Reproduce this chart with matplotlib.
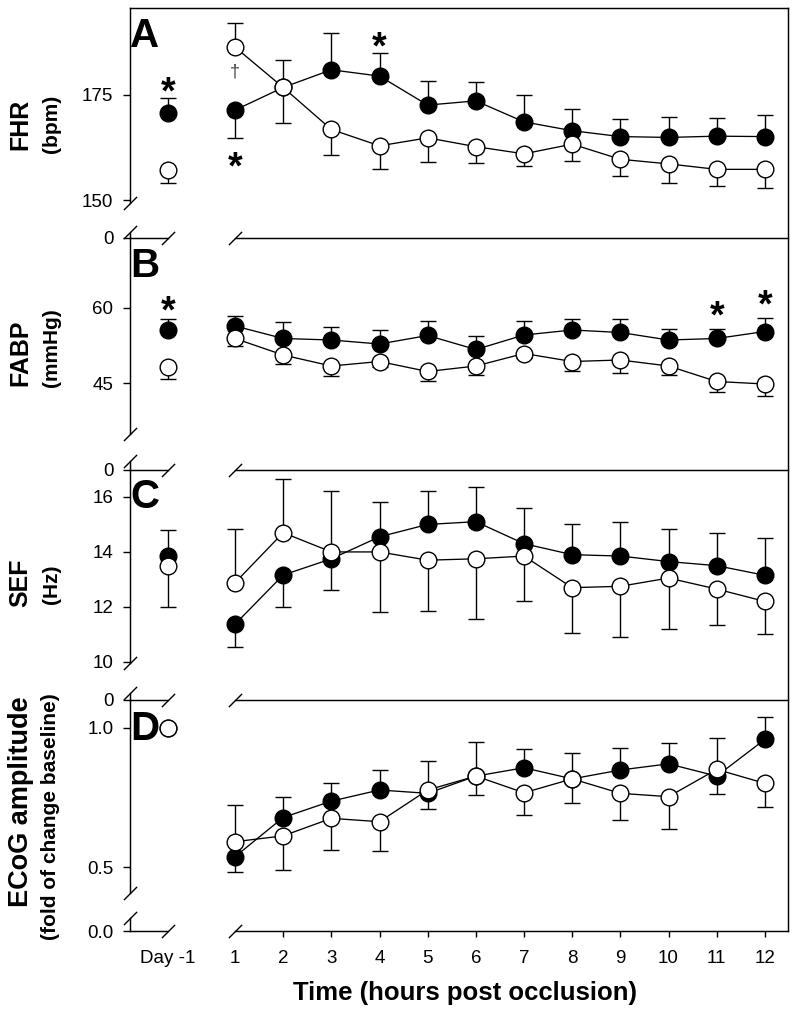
import matplotlib
matplotlib.use('Agg')
import matplotlib.pyplot as plt

plt.rcParams['font.family'] = ['Liberation Sans', 'DejaVu Sans']

# ---------------- data ----------------
hours = [1, 2, 3, 4, 5, 6, 7, 8, 9, 10, 11, 12]
hour_labels = [str(h) for h in hours]
day_label = 'Day -1'

# Panel A: FHR (bpm)   day values = [filled, open]
fhr_day = [170.7, 157.1]
fhr_day_lo = [0.0, 3.1]
fhr_day_hi = [3.6, 0.0]
fhr_filled = [171.4, 176.8, 181.0, 179.5, 172.6, 173.6, 168.6, 166.5, 165.1, 164.9, 165.2, 165.1]
fhr_filled_lo = [6.6, 0, 0, 0, 0, 0, 0, 0, 0, 0, 0, 0]
fhr_filled_hi = [0, 6.5, 8.7, 5.4, 5.7, 4.5, 6.4, 5.1, 4.3, 4.8, 4.4, 5.1]
fhr_open = [186.4, 176.8, 166.8, 162.9, 164.8, 162.7, 161.0, 163.3, 159.7, 158.6, 157.3, 157.3]
fhr_open_lo = [0, 8.4, 6.2, 5.4, 5.8, 4.0, 3.0, 3.9, 4.0, 4.5, 3.9, 4.5]
fhr_open_hi = [5.8, 0, 0, 0, 0, 0, 0, 0, 0, 0, 0, 0]
fhr_ticks = [150, 175]
fhr_ticklabels = ['150', '175']

# Panel B: FABP (mmHg)
fabp_day = [55.6, 48.3]
fabp_day_lo = [0.0, 2.6]
fabp_day_hi = [2.2, 0.0]
fabp_filled = [56.4, 53.9, 53.6, 52.8, 54.5, 51.7, 54.6, 55.6, 55.1, 53.6, 53.9, 55.3]
fabp_filled_lo = [0, 0, 0, 0, 0, 0, 0, 0, 0, 0, 0, 0]
fabp_filled_hi = [2.0, 3.2, 2.5, 2.9, 3.0, 2.7, 2.8, 2.3, 2.7, 2.3, 2.0, 2.8]
fabp_open = [53.9, 50.6, 48.4, 49.3, 47.3, 48.4, 50.9, 49.3, 49.6, 48.4, 45.3, 44.8]
fabp_open_lo = [1.5, 1.8, 2.1, 1.0, 2.0, 1.9, 1.0, 2.0, 2.7, 1.7, 2.2, 2.5]
fabp_open_hi = [0, 0, 0, 0, 0, 0, 0, 0, 0, 0, 0, 0]
fabp_ticks = [45, 60]
fabp_ticklabels = ['45', '60']

# Panel C: SEF (Hz)
sef_day = [13.85, 13.49]
sef_day_lo = [0.0, 1.5]
sef_day_hi = [0.95, 0.0]
sef_filled = [11.37, 13.16, 13.75, 14.55, 15.0, 15.1, 14.3, 13.9, 13.85, 13.65, 13.5, 13.15]
sef_filled_lo = [0.84, 1.15, 1.15, 0, 0, 0, 0, 0, 0, 0, 0, 0]
sef_filled_hi = [0, 0, 0, 1.25, 1.2, 1.25, 1.3, 1.1, 1.25, 1.2, 1.2, 1.35]
sef_open = [12.88, 14.70, 14.0, 14.0, 13.7, 13.75, 13.85, 12.7, 12.75, 13.05, 12.65, 12.2]
sef_open_lo = [0, 0, 0, 2.2, 1.85, 2.2, 1.65, 1.65, 1.85, 1.85, 1.3, 1.2]
sef_open_hi = [1.96, 1.95, 2.2, 0, 0, 0, 0, 0, 0, 0, 0, 0]
sef_ticks = [10, 12, 14, 16]
sef_ticklabels = ['10', '12', '14', '16']

# Panel D: ECoG amplitude (fold of change baseline)
ecog_day = [1.0, 1.0]
ecog_day_lo = [0.0, 0.0]
ecog_day_hi = [0.0, 0.0]
ecog_filled = [0.537, 0.678, 0.737, 0.777, 0.765, 0.827, 0.857, 0.817, 0.849, 0.871, 0.827, 0.959]
ecog_filled_lo = [0.056, 0, 0, 0, 0.057, 0, 0, 0, 0, 0, 0.064, 0]
ecog_filled_hi = [0, 0.074, 0.066, 0.072, 0, 0.124, 0.066, 0.094, 0.078, 0.074, 0, 0.082]
ecog_open = [0.591, 0.612, 0.675, 0.663, 0.777, 0.827, 0.767, 0.817, 0.765, 0.753, 0.851, 0.801]
ecog_open_lo = [0, 0.123, 0.114, 0.104, 0, 0.068, 0.08, 0.086, 0.096, 0.117, 0, 0.084]
ecog_open_hi = [0.132, 0, 0, 0, 0.104, 0, 0, 0, 0, 0, 0.114, 0]
ecog_ticks = [0.5, 1.0]
ecog_ticklabels = ['0.5', '1.0']

# significance marks: (panel, x ('day' or hour), y, symbol)
marks = [
    (0, 'day', 177.9, '*'),
    (0, 1, 160.2, '*'),
    (0, 4, 188.6, '*'),
    (0, 1, 180.7, '\u2020'),
    (1, 'day', 61.3, '*'),
    (1, 11, 60.4, '*'),
    (1, 12, 62.6, '*'),
]

panels = [
    dict(letter='A', label='FHR', unit='(bpm)', day=fhr_day, day_lo=fhr_day_lo, day_hi=fhr_day_hi,
         filled=fhr_filled, filled_lo=fhr_filled_lo, filled_hi=fhr_filled_hi,
         open=fhr_open, open_lo=fhr_open_lo, open_hi=fhr_open_hi,
         ticks=fhr_ticks, ticklabels=fhr_ticklabels, zero='0'),
    dict(letter='B', label='FABP', unit='(mmHg)', day=fabp_day, day_lo=fabp_day_lo, day_hi=fabp_day_hi,
         filled=fabp_filled, filled_lo=fabp_filled_lo, filled_hi=fabp_filled_hi,
         open=fabp_open, open_lo=fabp_open_lo, open_hi=fabp_open_hi,
         ticks=fabp_ticks, ticklabels=fabp_ticklabels, zero='0'),
    dict(letter='C', label='SEF', unit='(Hz)', day=sef_day, day_lo=sef_day_lo, day_hi=sef_day_hi,
         filled=sef_filled, filled_lo=sef_filled_lo, filled_hi=sef_filled_hi,
         open=sef_open, open_lo=sef_open_lo, open_hi=sef_open_hi,
         ticks=sef_ticks, ticklabels=sef_ticklabels, zero='0'),
    dict(letter='D', label='ECoG amplitude', unit='(fold of change baseline)', day=ecog_day,
         day_lo=ecog_day_lo, day_hi=ecog_day_hi,
         filled=ecog_filled, filled_lo=ecog_filled_lo, filled_hi=ecog_filled_hi,
         open=ecog_open, open_lo=ecog_open_lo, open_hi=ecog_open_hi,
         ticks=ecog_ticks, ticklabels=ecog_ticklabels, zero='0.0'),
]

# ---------------- layout ----------------
W, H = 800, 1010
fig = plt.figure(figsize=(W / 100, H / 100), dpi=100)
fig.patch.set_facecolor('white')

LW = 1.05
TICK_FS = 13.5
XL0, XL1 = 130, 168
XR0, XR1 = 235, 788
rows_px = [(8, 203, 232, 238), (238, 434, 461, 470), (470, 663, 693, 700), (700, 893, 918, 931)]
ylims = [(149.29, 195.71), (34.8, 74.0), (9.96, 16.98), (0.4065, 1.1007)]
label_px = [(20, 124, 52, 124), (20, 353, 52, 348), (20, 583, 52, 584), (21, 802, 51, 817)]
label_fs = [18, 18, 18, 19.5]
letter_base_px = [47, 277, 508, 740]
XLIM_L = (-1.0, 0.0)
XLIM_R = (1.0, 12.48)


def ax_px(x0, x1, y0, y1, z=1):
    a = fig.add_axes([x0 / W, 1 - y1 / H, (x1 - x0) / W, (y1 - y0) / H], zorder=z)
    a.set_facecolor('none')
    for s in a.spines.values():
        s.set_visible(False)
        s.set_linewidth(LW)
    a.tick_params(axis='both', which='both', length=0, labelleft=False, labelbottom=False)
    return a


def slash(a, x, y):
    a.plot([x], [y], transform=a.transAxes, marker=[(-1, -1), (1, 1)], markersize=9.5,
           mew=1.0, color='k', linestyle='none', clip_on=False, zorder=10)


def series(a, x, y, lo, hi, filled, z):
    cont = a.errorbar(x, y, yerr=[lo, hi], fmt='none', ecolor='k', elinewidth=1.0,
                      capsize=5.5, capthick=1.0, zorder=2)
    for art in cont.get_children():
        art.set_clip_on(False)
    a.plot(x, y, '-', color='k', lw=0.95, marker='o', ms=12,
           mfc='k' if filled else 'w', mec='k', mew=1.0, zorder=z, clip_on=False)


# frame: top and right border
frame = ax_px(130, 788, 8, 931, z=0)
frame.spines['top'].set_visible(True)
frame.spines['right'].set_visible(True)

axes_main = []
for i, p in enumerate(panels):
    top, mbot, stop, sbot = rows_px[i]
    axL = ax_px(XL0, XL1, top, mbot, z=2)
    axR = ax_px(XR0, XR1, top, mbot, z=2)
    sL = ax_px(XL0, XL1, stop, sbot, z=2)
    sR = ax_px(XR0, XR1, stop, sbot, z=2)

    for a in (axL, axR):
        a.set_ylim(*ylims[i])
    for a in (axL, sL):
        a.set_xlim(*XLIM_L)
    for a in (axR, sR):
        a.set_xlim(*XLIM_R)
    for a in (sL, sR):
        a.set_ylim(0, 1)

    # left spine with ticks
    axL.spines['left'].set_visible(True)
    axL.set_yticks(p['ticks'])
    axL.set_yticklabels(p['ticklabels'])
    axL.tick_params(axis='y', direction='out', length=5, width=1.0, pad=7,
                    labelsize=TICK_FS, labelleft=True)
    axL.set_xticks([])
    axR.set_xticks([])
    axR.set_yticks([])

    sL.spines['left'].set_visible(True)
    sL.spines['bottom'].set_visible(True)
    sR.spines['bottom'].set_visible(True)
    sL.set_yticks([0])
    sL.set_yticklabels([p['zero']])
    sL.tick_params(axis='y', direction='out', length=5, width=1.0, pad=7,
                   labelsize=TICK_FS, labelleft=True)
    sR.set_yticks([])
    if i == len(panels) - 1:
        sL.set_xticks([0])
        sL.set_xticklabels([day_label])
        sL.tick_params(axis='x', length=0, pad=14, labelsize=TICK_FS, labelbottom=True)
        sR.set_xticks(hours)
        sR.set_xticklabels(hour_labels)
        sR.tick_params(axis='x', direction='out', length=4.5, width=1.0, pad=9.5,
                       labelsize=TICK_FS, labelbottom=True)
        sR.xaxis.get_major_ticks()[0].tick1line.set_visible(False)
    else:
        sL.set_xticks([])
        sR.set_xticks([])

    # break marks
    slash(axL, 0, 0)
    slash(sL, 0, 1)
    slash(sL, 1, 0)
    slash(sR, 0, 0)

    # data: Day -1
    series(axL, [0], [p['day'][0]], [p['day_lo'][0]], [p['day_hi'][0]], True, 3)
    series(axL, [0], [p['day'][1]], [p['day_lo'][1]], [p['day_hi'][1]], False, 4)
    # data: hours
    series(axR, hours, p['filled'], p['filled_lo'], p['filled_hi'], True, 3)
    series(axR, hours, p['open'], p['open_lo'], p['open_hi'], False, 4)

    axes_main.append((axL, axR))

    # labels
    lx, ly, ux, uy = label_px[i]
    fig.text(lx / W, 1 - ly / H, p['label'], rotation=90, ha='center', va='center',
             fontsize=label_fs[i], fontweight='bold')
    fig.text(ux / W, 1 - uy / H, p['unit'], rotation=90, ha='center', va='center',
             fontsize=15, fontweight='bold')
    fig.text(130 / W, 1 - letter_base_px[i] / H, p['letter'], ha='left', va='baseline',
             fontsize=29, fontweight='bold', zorder=20)

# significance marks
for (pi, xv, yv, sym) in marks:
    axL, axR = axes_main[pi]
    a = axL if xv == 'day' else axR
    xx = 0 if xv == 'day' else xv
    if sym == '*':
        fs = 27
        a.annotate(sym, (xx, yv), xytext=(0, -0.56 * fs), textcoords='offset points',
                   ha='center', va='baseline', fontsize=fs, fontweight='bold',
                   annotation_clip=False, zorder=12)
    else:
        fs = 13
        a.annotate(sym, (xx, yv), xytext=(0, -0.28 * fs), textcoords='offset points',
                   ha='center', va='baseline', fontsize=fs, color='#444444',
                   annotation_clip=False, zorder=12)

fig.text(465 / W, 1 - 993 / H, 'Time (hours post occlusion)', ha='center', va='center',
         fontsize=18.5, fontweight='bold')

fig.savefig('out.png', dpi=100, facecolor='white')
